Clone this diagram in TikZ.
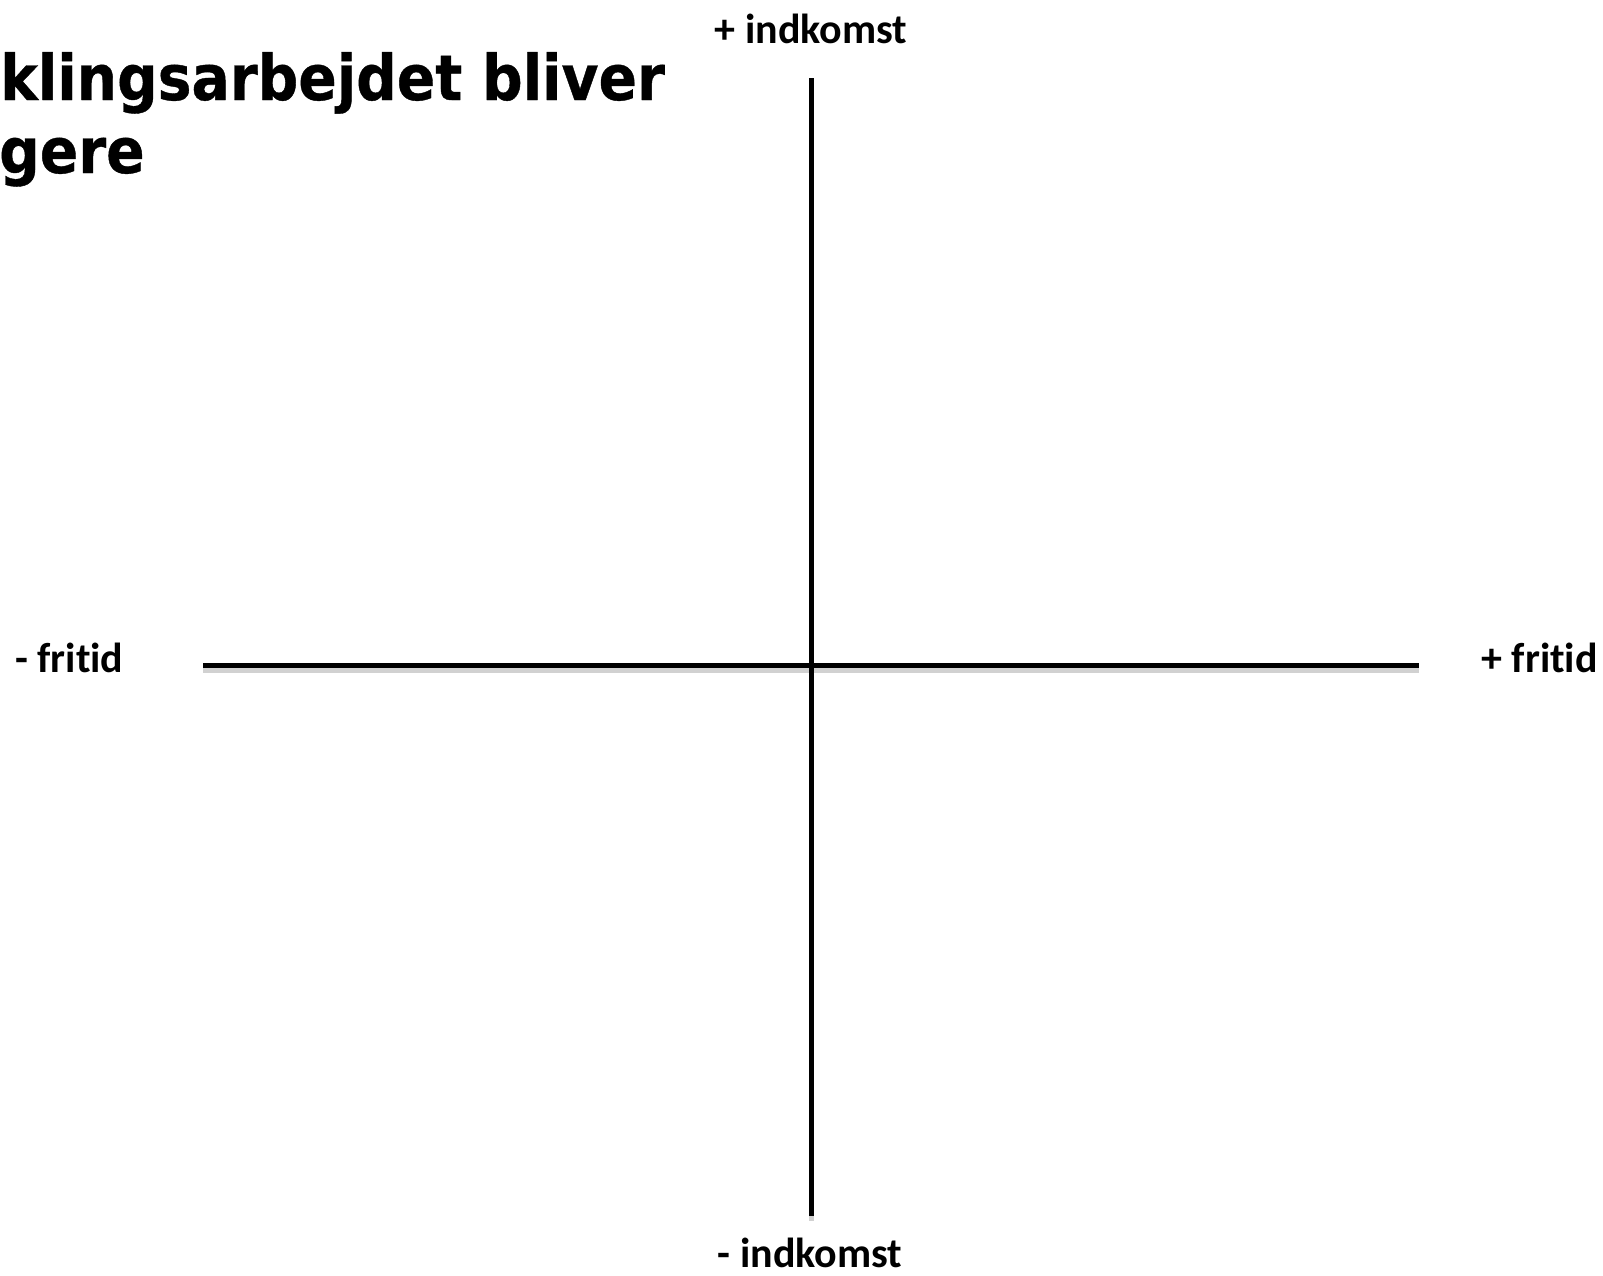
\documentclass[tikz,border=0pt]{standalone}
\usepackage{fontspec}
\setmainfont{Carlito}
\newfontfamily\labelfont[Ligatures=NoCommon,RawFeature=-liga]{Carlito Bold}
\newfontfamily\titlefont[FakeStretch=0.9,FakeBold=0.6]{DejaVu Sans Bold}
\begin{document}
\begin{tikzpicture}[x=1pt,y=-1pt,
  lbl/.style={inner sep=0pt,font=\fontsize{42}{50}\labelfont},
  ttl/.style={inner sep=0pt,anchor=base west,font=\fontsize{63}{73}\titlefont},
  axis/.style={line width=5pt,black},
  axshadow/.style={line width=5pt,black!18}]
\useasboundingbox[fill=white] (0,0) rectangle (1603,1275);
% axis endpoints
\coordinate (top) at (811,78);
\coordinate (bottom) at (811,1216);
\coordinate (left) at (203,665);
\coordinate (right) at (1419,665);
% shadows
\draw[axshadow] ([yshift=-5pt]left) -- ([yshift=-5pt]right);
\draw[axshadow] ([yshift=-5pt]top) -- ([yshift=-5pt]bottom);
% axes
\draw[axis] (left) -- (right);
\draw[axis] (top) -- (bottom);
% labels
\node[lbl,anchor=base] (incplus) at (811,43) {+ indkomst};
\node[lbl,anchor=base] (incminus) at (810,1267) {- indkomst};
\node[lbl,anchor=base west] (frminus) at (15,672) {- fritid};
\node[lbl,anchor=base east] (frplus) at (1598,672) {+ fritid};
% title
\node[ttl] (title1) at (0,100) {klingsarbejdet bliver};
\node[ttl] (title2) at (-1,173) {gere};
\end{tikzpicture}
\end{document}
